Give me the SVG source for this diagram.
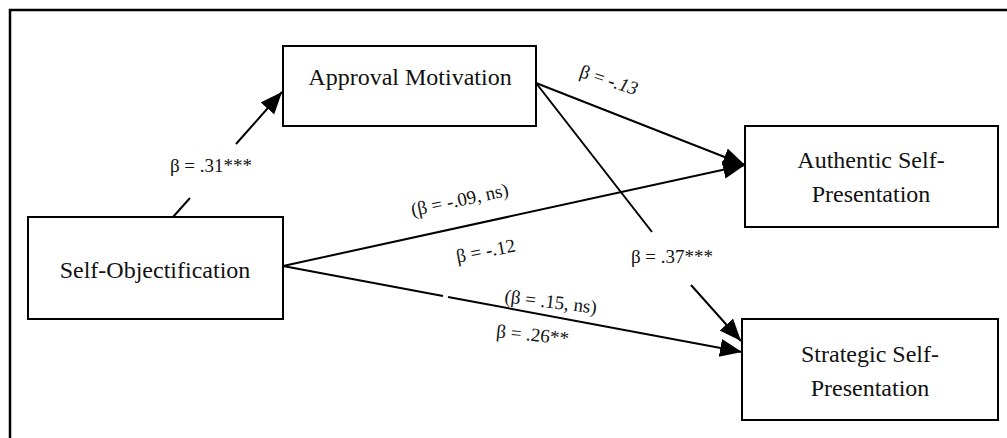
<svg xmlns="http://www.w3.org/2000/svg" width="1007" height="438" viewBox="0 0 1007 438">
<style>
.box{fill:#fff;stroke:#000;stroke-width:2}
.nt{font-family:"Liberation Serif","Times New Roman",serif;font-size:24px;fill:#111;text-anchor:middle}
.lb{font-family:"Liberation Serif","Times New Roman",serif;font-size:19px;fill:#111;text-anchor:middle}
.ln{stroke:#000;stroke-width:2;fill:none}
.frame{stroke:#000;stroke-width:2.5;fill:none}
</style>
<defs>
<marker id="ah" markerUnits="userSpaceOnUse" markerWidth="24" markerHeight="20" refX="22" refY="9" orient="auto">
<path d="M0,0 L22,9 L0,18 Z" fill="#000"/>
</marker>
</defs>
<path class="frame" d="M10,438 L10,10 L1007,10"/>
<g id="connectors">
<line class="ln" x1="173" y1="217" x2="190" y2="198"/>
<line class="ln" x1="236" y1="144" x2="282" y2="92" marker-end="url(#ah)"/>
<line class="ln" x1="536" y1="83" x2="745" y2="165" marker-end="url(#ah)"/>
<line class="ln" x1="536" y1="83" x2="652" y2="232"/>
<line class="ln" x1="691" y1="285" x2="741" y2="341" marker-end="url(#ah)"/>
<line class="ln" x1="283" y1="266" x2="745" y2="165" marker-end="url(#ah)"/>
<line class="ln" x1="283" y1="266" x2="443" y2="296"/>
<line class="ln" x1="448" y1="297" x2="742" y2="352" marker-end="url(#ah)"/>
</g>
<g id="node-approval">
<rect class="box" x="283" y="46" width="253" height="80"/>
<text class="nt" x="410" y="85">Approval Motivation</text>
</g>
<g id="node-selfobj">
<rect class="box" x="28" y="217" width="255" height="102"/>
<text class="nt" x="155" y="278">Self-Objectification</text>
</g>
<g id="node-authentic">
<rect class="box" x="745" y="126" width="253" height="101"/>
<text class="nt" x="871" y="168">Authentic Self-</text>
<text class="nt" x="871" y="202">Presentation</text>
</g>
<g id="node-strategic">
<rect class="box" x="742" y="319" width="256" height="101"/>
<text class="nt" x="870" y="362">Strategic Self-</text>
<text class="nt" x="870" y="396">Presentation</text>
</g>
<g id="labels">
<text class="lb" x="211" y="172">β = .31***</text>
<text class="lb" x="607" y="86" transform="rotate(18 607 86)">β = <tspan font-style="italic">-.13</tspan></text>
<text class="lb" x="461" y="206" transform="rotate(-12 461 206)">(β = -.09, ns)</text>
<text class="lb" x="487" y="257" transform="rotate(-11 487 257)">β = -.12</text>
<text class="lb" x="550" y="308" transform="rotate(7 550 308)">(β = .15, ns)</text>
<text class="lb" x="532" y="341" transform="rotate(6 532 341)">β = .26**</text>
<text class="lb" x="672" y="263">β = .37***</text>
</g>
</svg>
